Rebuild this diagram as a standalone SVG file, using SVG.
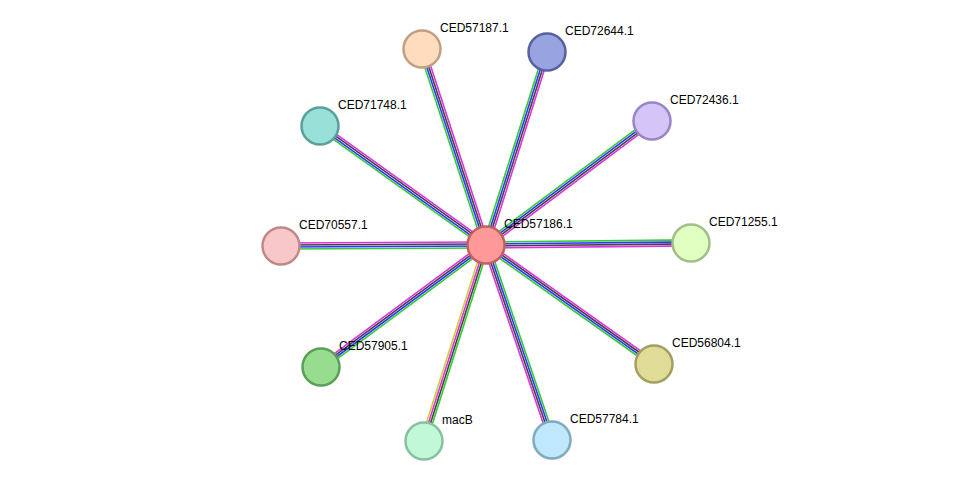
<svg xmlns="http://www.w3.org/2000/svg" width="976" height="487" viewBox="0 0 976 487">
<style>
.e line{stroke-width:1.6}
.g{stroke:#33cc33}.b{stroke:#3333ff}.k{stroke:#444}.m{stroke:#dd33dd}.y{stroke:#c8d040}
.n circle{stroke-width:2.5}
text{font-family:"Liberation Sans",Arial,sans-serif;font-size:12px;fill:#000}
</style>
<rect width="976" height="487" fill="#fff"/>
<g id="connectors" class="e">
<g transform="translate(486,245) rotate(-108.1)"><line class="g" x1="0" y1="-3" x2="206" y2="-3"/><line class="b" x1="0" y1="-1" x2="206" y2="-1"/><line class="k" x1="0" y1="1" x2="206" y2="1"/><line class="m" x1="0" y1="3" x2="206" y2="3"/></g>
<g transform="translate(486,245) rotate(-72.5)"><line class="g" x1="0" y1="-3" x2="202" y2="-3"/><line class="b" x1="0" y1="-1" x2="202" y2="-1"/><line class="k" x1="0" y1="1" x2="202" y2="1"/><line class="m" x1="0" y1="3" x2="202" y2="3"/></g>
<g transform="translate(486,245) rotate(-36.8)"><line class="g" x1="0" y1="-3" x2="207" y2="-3"/><line class="b" x1="0" y1="-1" x2="207" y2="-1"/><line class="k" x1="0" y1="1" x2="207" y2="1"/><line class="m" x1="0" y1="3" x2="207" y2="3"/></g>
<g transform="translate(486,245) rotate(-144.4)"><line class="g" x1="0" y1="-3" x2="204" y2="-3"/><line class="b" x1="0" y1="-1" x2="204" y2="-1"/><line class="k" x1="0" y1="1" x2="204" y2="1"/><line class="m" x1="0" y1="3" x2="204" y2="3"/></g>
<g transform="translate(486,245) rotate(179.7)"><line class="g" x1="0" y1="-3" x2="205" y2="-3"/><line class="b" x1="0" y1="-1" x2="205" y2="-1"/><line class="k" x1="0" y1="1" x2="205" y2="1"/><line class="m" x1="0" y1="3" x2="205" y2="3"/></g>
<g transform="translate(486,245) rotate(-0.6)"><line class="g" x1="0" y1="-3" x2="205" y2="-3"/><line class="b" x1="0" y1="-1" x2="205" y2="-1"/><line class="k" x1="0" y1="1" x2="205" y2="1"/><line class="m" x1="0" y1="3" x2="205" y2="3"/></g>
<g transform="translate(486,245) rotate(143.5)"><line class="g" x1="0" y1="-3" x2="205" y2="-3"/><line class="b" x1="0" y1="-1" x2="205" y2="-1"/><line class="k" x1="0" y1="1" x2="205" y2="1"/><line class="m" x1="0" y1="3" x2="205" y2="3"/></g>
<g transform="translate(486,245) rotate(35.3)"><line class="g" x1="0" y1="3" x2="206" y2="3"/><line class="b" x1="0" y1="1" x2="206" y2="1"/><line class="k" x1="0" y1="-1" x2="206" y2="-1"/><line class="m" x1="0" y1="-3" x2="206" y2="-3"/></g>
<g transform="translate(486,245) rotate(107.6)"><line class="g" x1="0" y1="-3" x2="206" y2="-3"/><line class="k" x1="0" y1="-1" x2="206" y2="-1"/><line class="m" x1="0" y1="1" x2="206" y2="1"/><line class="y" x1="0" y1="3" x2="206" y2="3"/></g>
<g transform="translate(486,245) rotate(71.3)"><line class="g" x1="0" y1="-3" x2="206" y2="-3"/><line class="b" x1="0" y1="-1" x2="206" y2="-1"/><line class="k" x1="0" y1="1" x2="206" y2="1"/><line class="m" x1="0" y1="3" x2="206" y2="3"/></g>
</g>
<g id="CED57187.1" class="n"><circle cx="422" cy="49" r="18.5" fill="#ffdcbe" stroke="#c0a080"/><text x="440" y="32">CED57187.1</text></g>
<g id="CED72644.1" class="n"><circle cx="547" cy="52" r="18.5" fill="#98a4e0" stroke="#5860a0"/><text x="565" y="35">CED72644.1</text></g>
<g id="CED72436.1" class="n"><circle cx="652" cy="121" r="18.5" fill="#d4c4f8" stroke="#9a84c8"/><text x="670" y="104">CED72436.1</text></g>
<g id="CED71748.1" class="n"><circle cx="320" cy="126" r="18.5" fill="#98e0d8" stroke="#58a098"/><text x="338" y="109">CED71748.1</text></g>
<g id="CED70557.1" class="n"><circle cx="281" cy="246" r="18.5" fill="#f8c8c8" stroke="#c08888"/><text x="299" y="229">CED70557.1</text></g>
<g id="CED71255.1" class="n"><circle cx="691" cy="243" r="18.5" fill="#e0ffc0" stroke="#a0c088"/><text x="709" y="226">CED71255.1</text></g>
<g id="CED57905.1" class="n"><circle cx="321" cy="367" r="18.5" fill="#98dc90" stroke="#58a058"/><text x="339" y="350">CED57905.1</text></g>
<g id="CED56804.1" class="n"><circle cx="654" cy="364" r="18.5" fill="#e0dc98" stroke="#a0a060"/><text x="672" y="347">CED56804.1</text></g>
<g id="macB" class="n"><circle cx="424" cy="441" r="18.5" fill="#c0f8d8" stroke="#88c0a0"/><text x="442" y="424">macB</text></g>
<g id="CED57784.1" class="n"><circle cx="552" cy="440" r="18.5" fill="#c0e8fc" stroke="#80a8c0"/><text x="570" y="423">CED57784.1</text></g>
<g id="CED57186.1" class="n"><circle cx="486" cy="245" r="18.5" fill="#ff9898" stroke="#c06060"/><text x="504" y="228">CED57186.1</text></g>
</svg>
